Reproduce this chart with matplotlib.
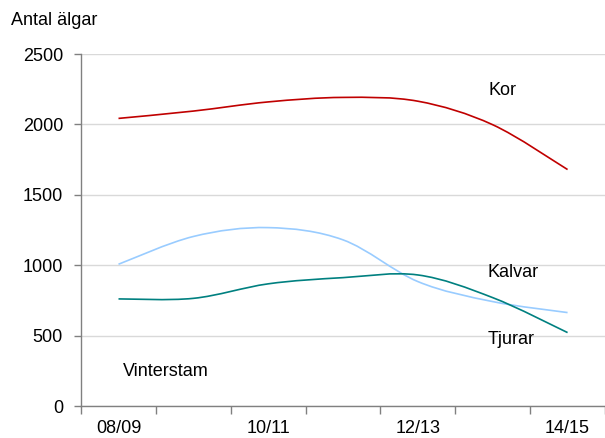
import matplotlib
matplotlib.use("Agg")
import matplotlib.pyplot as plt
from matplotlib.path import Path
from matplotlib.patches import PathPatch
import numpy as np

plt.rcParams["font.family"] = ["Liberation Sans", "DejaVu Sans"]

# Data
seasons = ["08/09", "09/10", "10/11", "11/12", "12/13", "13/14", "14/15"]
kor = [2043, 2095, 2160, 2192, 2165, 1998, 1680]
kalvar = [1008, 1205, 1268, 1181, 885, 743, 665]
tjurar = [762, 766, 869, 913, 932, 771, 523]

series = [
    ("Kor", kor, "#C00000", (4.95, 2206)),
    ("Kalvar", kalvar, "#99CCFF", (4.93, 916)),
    ("Tjurar", tjurar, "#008080", (4.93, 440)),
]


def smooth_path(xs, ys):
    # Excel-like smoothed line: cubic bezier through each point
    pts = np.column_stack([xs, ys]).astype(float)
    ext = np.vstack([pts[0], pts, pts[-1]])
    verts = [pts[0]]
    codes = [Path.MOVETO]
    for i in range(len(pts) - 1):
        p0, p1, p2, p3 = ext[i], ext[i + 1], ext[i + 2], ext[i + 3]
        c1 = p1 + (p2 - p0) / 6.0
        c2 = p2 - (p3 - p1) / 6.0
        verts += [c1, c2, p2]
        codes += [Path.CURVE4] * 3
    return Path(verts, codes)


fig = plt.figure(figsize=(6.05, 4.38), dpi=100)
ax = fig.add_axes([0.134, 0.0724, 0.866, 0.8043])

x = np.arange(len(seasons))
for name, vals, color, (tx, ty) in series:
    ax.add_patch(PathPatch(smooth_path(x, vals), facecolor="none",
                           edgecolor=color, linewidth=1.2))
    ax.text(tx, ty, name, fontsize=13, ha="left", va="baseline")

ax.text(0.06, 215, "Vinterstam", fontsize=13, ha="left", va="baseline")
fig.text(11 / 605, 1 - 25 / 438, "Antal älgar", fontsize=13,
         ha="left", va="baseline")

ax.set_xlim(-0.5, len(seasons) - 0.5)
ax.set_ylim(0, 2500)
ax.set_yticks(range(0, 2501, 500))
ax.yaxis.grid(True, color="#D9D9D9", linewidth=1.0)
ax.set_axisbelow(True)

ax.set_xticks(x[::2])
ax.set_xticklabels(seasons[::2])
ax.set_xticks(np.arange(-0.5, len(seasons)), minor=True)
ax.tick_params(axis="x", which="major", length=0, pad=10, labelsize=13)
ax.tick_params(axis="x", which="minor", length=6, color="#808080", width=1)
ax.tick_params(axis="y", length=5, color="#808080", width=1, pad=8,
               labelsize=13)

for side in ["top", "right"]:
    ax.spines[side].set_visible(False)
for side in ["left", "bottom"]:
    ax.spines[side].set_color("#808080")
    ax.spines[side].set_linewidth(1.0)

fig.savefig("out.png", dpi=100)
